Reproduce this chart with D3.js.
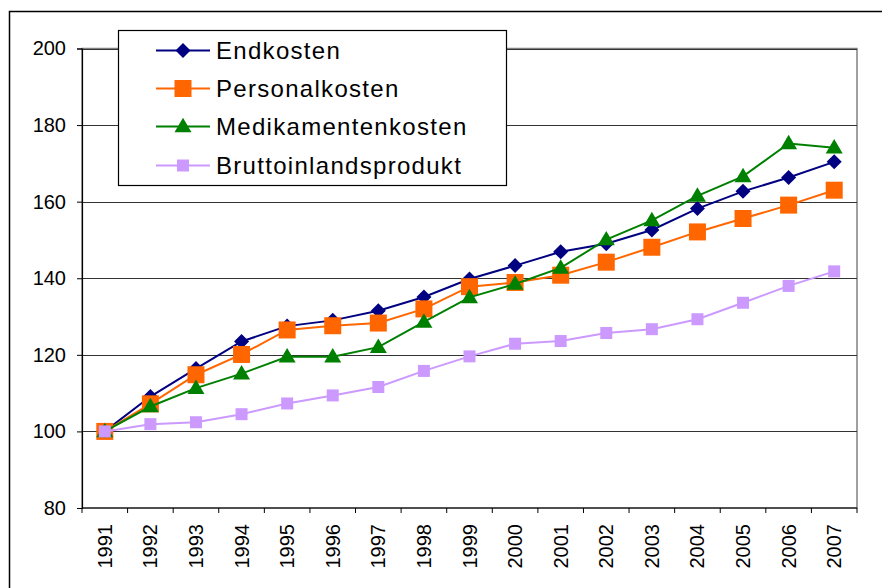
<!DOCTYPE html>
<html>
<head>
<meta charset="utf-8">
<script src="https://cdn.jsdelivr.net/npm/d3@7"></script>
<style>
  html, body { margin: 0; padding: 0; background: #fff; }
  svg { display: block; font-family: Arial, "Liberation Sans", sans-serif; }
</style>
</head>
<body>
<svg id="chart" width="882" height="588"></svg>
<script>
const years = ["1991","1992","1993","1994","1995","1996","1997","1998","1999","2000","2001","2002","2003","2004","2005","2006","2007"];
const endkosten = [100,109.1,116.4,123.5,127.5,129.0,131.5,135.1,139.8,143.3,146.9,149.0,152.6,158.2,162.7,166.3,170.4];
const personalkosten = [100,107.2,114.8,120.1,126.5,127.6,128.3,132.0,137.8,138.9,140.8,144.2,148.1,152.1,155.6,159.1,163.0];
const medikamentenkosten = [100,106.5,111.3,115.1,119.5,119.5,122.0,128.6,135.0,138.5,142.7,150.1,155.1,161.5,166.6,175.2,174.1];
const bruttoinlandsprodukt = [100,101.9,102.4,104.5,107.3,109.4,111.6,115.8,119.6,122.9,123.6,125.7,126.7,129.3,133.6,138.0,141.8];
const yTicks = [80,100,120,140,160,180,200];
const seriesNames = ["Endkosten","Personalkosten","Medikamentenkosten","Bruttoinlandsprodukt"];

const series = [
  {name: seriesNames[0], values: endkosten, color: "#000080", marker: "diamond", size: 15},
  {name: seriesNames[1], values: personalkosten, color: "#FF6600", marker: "square", size: 17},
  {name: seriesNames[2], values: medikamentenkosten, color: "#008000", marker: "triangle", size: 17},
  {name: seriesNames[3], values: bruttoinlandsprodukt, color: "#CC99FF", marker: "square", size: 12}
];

const svg = d3.select("#chart");
const pLeft = 82, pRight = 857, pTop = 48.5, pBottom = 508;

const x = d3.scaleBand().domain(years).range([pLeft, pRight]).padding(0);
const y = d3.scaleLinear().domain([80, 200]).range([pBottom, pTop]);

// outer chart border
svg.append("rect").attr("x", 9.5).attr("y", 11.5).attr("width", 900).attr("height", 600)
  .attr("fill", "#fff").attr("stroke", "#000").attr("stroke-width", 1.5);

// plot area border
svg.append("rect").attr("x", pLeft).attr("y", pTop).attr("width", pRight - pLeft).attr("height", pBottom - pTop)
  .attr("fill", "none").attr("stroke", "#808080").attr("stroke-width", 1.5);

// gridlines
svg.append("g").selectAll("line").data(yTicks.filter(d => d > 80)).join("line")
  .attr("x1", pLeft).attr("x2", pRight)
  .attr("y1", d => Math.round(y(d)) + 0.5).attr("y2", d => Math.round(y(d)) + 0.5)
  .attr("stroke", "#333").attr("stroke-width", 1);

// y axis
const yAxis = d3.axisLeft(y).tickValues(yTicks).tickSize(5).tickPadding(11).tickFormat(d3.format("d"));
const gy = svg.append("g").attr("transform", `translate(${pLeft},0)`).call(yAxis);
gy.select(".domain").attr("stroke", "#000").attr("stroke-width", 1.2);
gy.selectAll(".tick line").attr("stroke", "#000");
gy.selectAll(".tick text").attr("font-size", 20).attr("fill", "#000")
  .attr("font-family", "Arial, 'Liberation Sans', sans-serif");

// x axis
const boundaries = years.map(d => x(d)).concat([pRight]);
const xAxis = d3.axisBottom(x).tickSize(0).tickPadding(0);
const gx = svg.append("g").attr("transform", `translate(0,${pBottom})`).call(xAxis);
gx.select(".domain").remove();
gx.append("line").attr("x1", pLeft).attr("x2", pRight).attr("y1", 0).attr("y2", 0)
  .attr("stroke", "#000").attr("stroke-width", 1.2);
gx.selectAll(".bnd").data(boundaries).join("line").attr("class", "bnd")
  .attr("x1", d => d).attr("x2", d => d).attr("y1", 0).attr("y2", 5)
  .attr("stroke", "#000").attr("stroke-width", 1);
gx.selectAll(".tick text")
  .attr("font-size", 20).attr("fill", "#000")
  .attr("font-family", "Arial, 'Liberation Sans', sans-serif")
  .attr("text-anchor", "end")
  .attr("transform", "translate(0,16) rotate(-90)")
  .attr("x", 0).attr("y", 0).attr("dy", "0.35em");

// symbols
function symbolPath(kind, size) {
  const h = size / 2;
  if (kind === "diamond") return `M0,${-h}L${h},0L0,${h}L${-h},0Z`;
  if (kind === "square") return `M${-h},${-h}H${h}V${h}H${-h}Z`;
  if (kind === "triangle") {
    const th = size * 0.85;
    return `M0,${-th * 0.6}L${h},${th * 0.4}L${-h},${th * 0.4}Z`;
  }
}

const line = d3.line().x((d, i) => x(years[i]) + x.bandwidth() / 2).y(d => y(d));

series.forEach(s => {
  const g = svg.append("g");
  g.append("path").datum(s.values).attr("d", line)
    .attr("fill", "none").attr("stroke", s.color).attr("stroke-width", 2);
  g.selectAll("path.m").data(s.values).join("path").attr("class", "m")
    .attr("d", symbolPath(s.marker, s.size))
    .attr("transform", (d, i) => `translate(${x(years[i]) + x.bandwidth() / 2},${y(d)})`)
    .attr("fill", s.color);
});

// legend
const leg = svg.append("g");
leg.append("rect").attr("x", 118.5).attr("y", 30.5).attr("width", 388).attr("height", 155)
  .attr("fill", "#fff").attr("stroke", "#000").attr("stroke-width", 1.2);
const rowY = [50.5, 88.5, 126.5, 165.5];
series.forEach((s, i) => {
  const yy = rowY[i];
  leg.append("line").attr("x1", 156).attr("x2", 210).attr("y1", yy).attr("y2", yy)
    .attr("stroke", s.color).attr("stroke-width", 2);
  leg.append("path").attr("d", symbolPath(s.marker, s.size))
    .attr("transform", `translate(183,${yy})`).attr("fill", s.color);
  leg.append("text").attr("x", 216).attr("y", yy).attr("dy", "0.35em")
    .attr("font-size", 24).attr("letter-spacing", "1.3px").attr("fill", "#000")
    .text(s.name);
});
</script>
</body>
</html>
